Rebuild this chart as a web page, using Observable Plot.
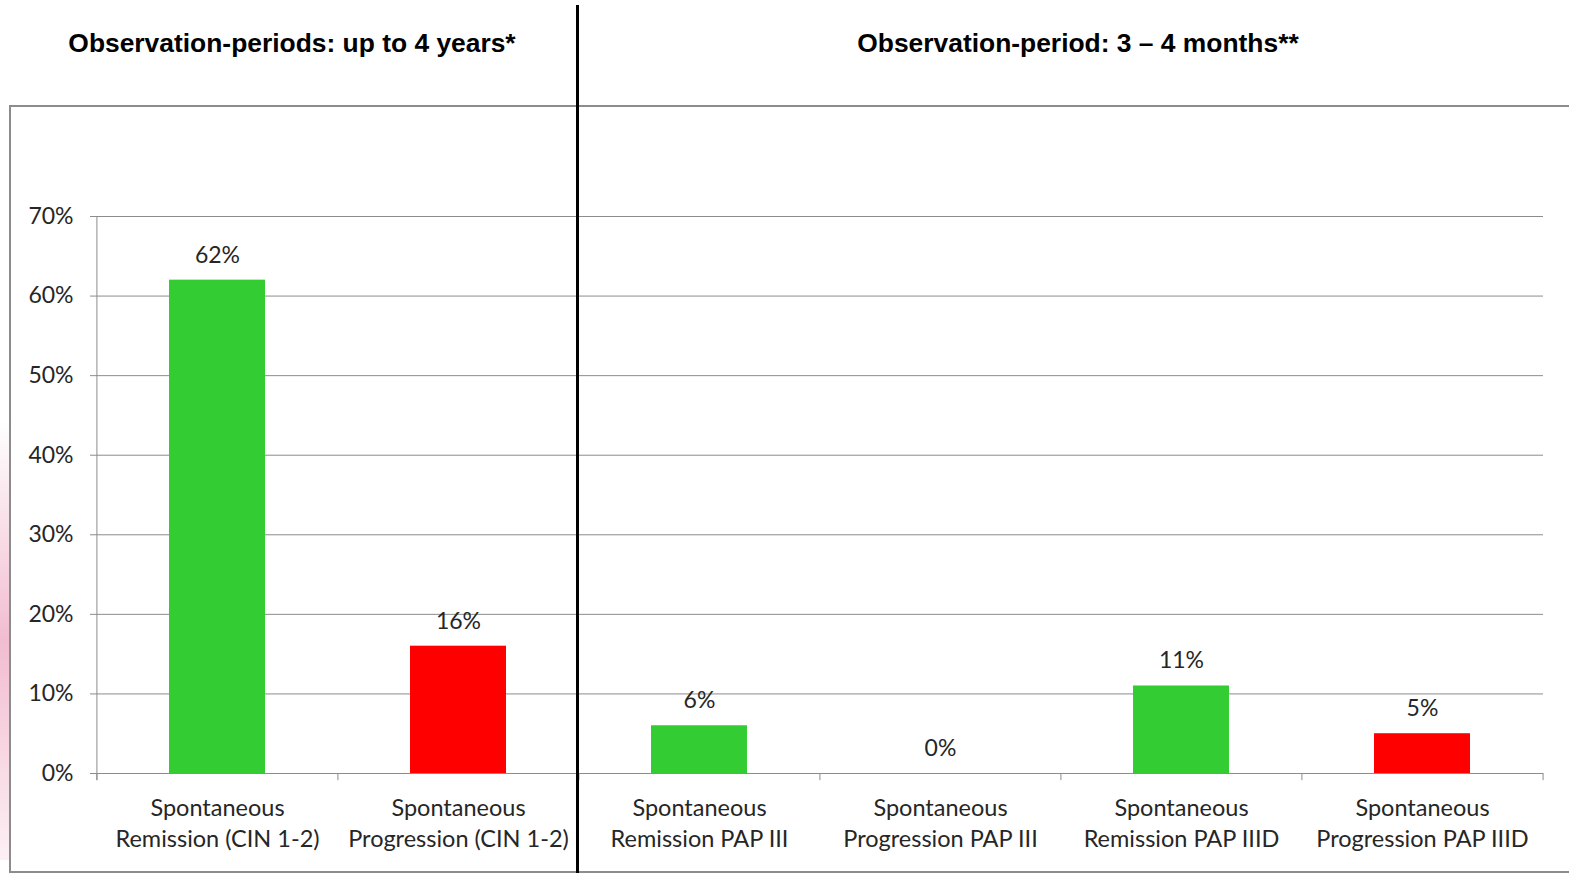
<!DOCTYPE html>
<html><head><meta charset="utf-8">
<script src="https://cdn.jsdelivr.net/npm/d3@7"></script>
<script src="https://cdn.jsdelivr.net/npm/@observablehq/plot@0.6"></script>
<style>
html,body{margin:0;padding:0;background:#fff;overflow:hidden;width:1569px;height:873px}
#wrap{position:relative;width:1569px;height:873px;overflow:hidden}
#wrap svg{position:absolute;left:0;top:0}
.title{position:absolute;font-family:"Liberation Sans",Arial,sans-serif;font-weight:bold;font-size:26.4px;color:#000;white-space:nowrap;line-height:30px;top:28px;transform:translateX(-50%)}
#frame{position:absolute;left:9px;top:105px;width:1600px;height:764px;border:2px solid #8c8c8c}
#divider{position:absolute;left:576px;top:5px;width:3px;height:873px;background:#000}
#pink{position:absolute;left:0;top:420px;width:10px;height:440px;background:linear-gradient(180deg,rgba(240,180,200,0) 0%,rgba(236,160,188,0.7) 50%,rgba(240,180,200,0.2) 100%)}
</style></head>
<body><div id="wrap">
<div id="pink"></div>
<div id="frame"></div>
<div class="title" style="left:292px">Observation-periods: up to 4 years*</div>
<div class="title" style="left:1078px">Observation-period: 3 – 4 months**</div>
</div>
<script>
const categories = [
  "Spontaneous\nRemission (CIN 1-2)",
  "Spontaneous\nProgression (CIN 1-2)",
  "Spontaneous\nRemission PAP III",
  "Spontaneous\nProgression PAP III",
  "Spontaneous\nRemission PAP IIID",
  "Spontaneous\nProgression PAP IIID"
];
const values = [62, 16, 6, 0, 11, 5];
const kinds = ["Remission", "Progression", "Remission", "Progression", "Remission", "Progression"];
const yTicks = [0, 10, 20, 30, 40, 50, 60, 70];

const data = categories.map((c, i) => ({cat: c, value: values[i], kind: kinds[i]}));

const W = 1569, H = 873, mL = 96, mR = 26, mT = 216, mB = 100;
const pIn = 0.6, pOut = 0.3;
const step = (W - mL - mR) / (categories.length - pIn + 2 * pOut);
const gray = "#8c8c8c";
const txt = "#262626";
const font = "Lato, 'Open Sans', sans-serif";
const fs = 23.5;

const chart = Plot.plot({
  width: W, height: H,
  marginLeft: mL, marginRight: mR, marginTop: mT, marginBottom: mB,
  style: {background: "transparent", fontFamily: font, fontSize: fs + "px"},
  x: {domain: categories, paddingInner: pIn, paddingOuter: pOut, axis: null, label: null},
  y: {domain: [0, 70], axis: null, label: null},
  color: {domain: ["Remission", "Progression"], range: ["#33cc33", "#ff0000"]},
  marks: [
    Plot.gridY(yTicks, {stroke: gray, strokeOpacity: 1, strokeWidth: 1}),
    Plot.axisY({ticks: yTicks, tickFormat: d => d + "%", tickSize: 6, tickPadding: 17, label: null,
      stroke: gray, strokeOpacity: 1, fill: txt, fontSize: 23, fontFamily: font}),
    Plot.ruleX(categories.slice(0, 1), {x: d => d, dx: -step / 2, y1: -0.9, y2: 70, stroke: gray, strokeWidth: 1}),
    Plot.ruleX(categories, {x: d => d, dx: -step / 2, y1: -0.9, y2: 0, stroke: gray, strokeWidth: 1}),
    Plot.ruleX(categories.slice(-1), {x: d => d, dx: step / 2, y1: -0.9, y2: 0, stroke: gray, strokeWidth: 1}),
    Plot.barY(data, {x: "cat", y: "value", fill: "kind"}),
    Plot.text(data, {x: "cat", y: "value", text: d => d.value + "%", dy: -25, fill: txt, fontSize: 23, fontFamily: font}),
    Plot.axisX({tickSize: 0, tickPadding: 21, label: null, fill: txt, fontSize: fs, fontFamily: font, lineHeight: 1.3})
  ]
});
const wrap = document.getElementById("wrap");
wrap.insertBefore(chart, wrap.firstChild.nextSibling.nextSibling);
const div = document.createElement("div");
div.id = "divider";
wrap.appendChild(div);
</script>
</body></html>
